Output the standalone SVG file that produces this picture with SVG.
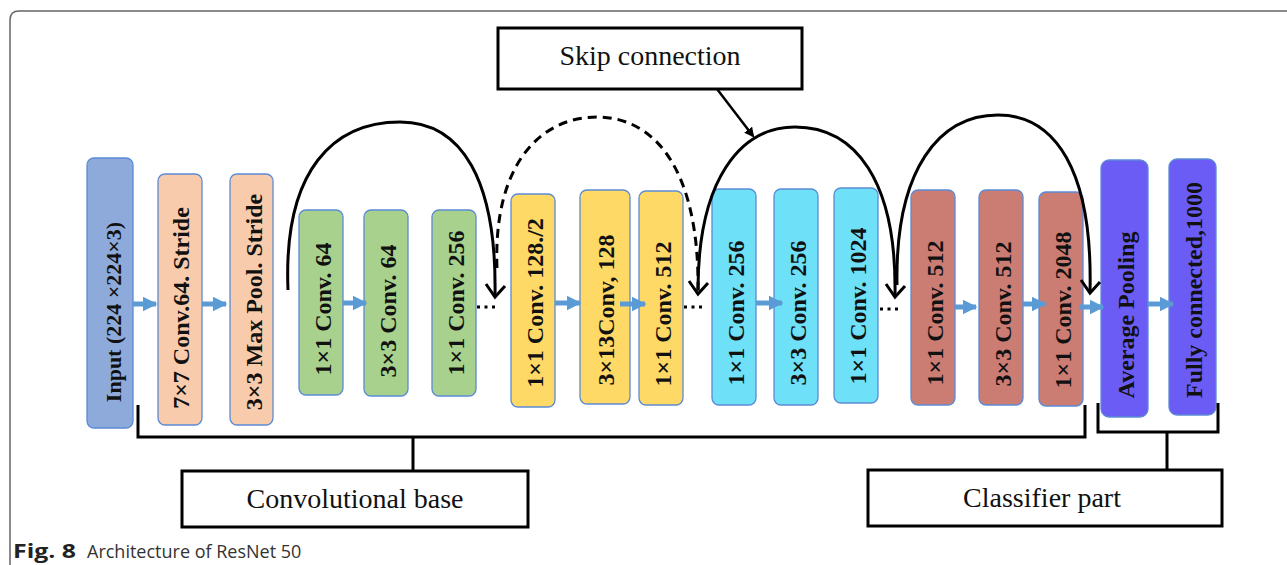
<svg xmlns="http://www.w3.org/2000/svg" width="1287" height="565" viewBox="0 0 1287 565">
<style>
.n{stroke:#5b8bd5;stroke-width:1.3}
.t{font-family:"Liberation Serif",serif;font-weight:bold;font-size:24px;fill:#111;text-anchor:middle;dominant-baseline:central}
.lbl{font-family:"Liberation Serif",serif;font-size:28px;fill:#111;text-anchor:middle}
.box{fill:#fff;stroke:#000;stroke-width:3}
.arc{fill:none;stroke:#000;stroke-width:3}
.head{fill:none;stroke:#000;stroke-width:3;stroke-linejoin:miter}
.ba{stroke:#5b9bd5;stroke-width:5;fill:none}
.dots{stroke:#000;stroke-width:3;stroke-dasharray:3 4.5}
</style>
<defs>
<marker id="bh" viewBox="0 0 10 10" refX="9" refY="5" markerWidth="3" markerHeight="3" orient="auto" markerUnits="strokeWidth">
<path d="M0 0 L10 5 L0 10 z" fill="#5b9bd5"/>
</marker>
<marker id="ph" viewBox="0 0 10 10" refX="8" refY="5" markerWidth="4" markerHeight="4" orient="auto" markerUnits="strokeWidth">
<path d="M0 0 L10 5 L0 10 z" fill="#000"/>
</marker>
</defs>
<rect width="1287" height="565" fill="#fff"/>
<path d="M10 575 L10 20 Q10 11 19 11 L1295 11" fill="none" stroke="#666" stroke-width="1.5"/>

<g id="input"><rect class="n" x="87" y="158" width="46" height="270" rx="7" fill="#8eaadb"/><text class="t" transform="translate(113 312) rotate(-90)" style="font-size:22px">Input (224 ×224×3)</text></g>
<g id="conv7"><rect class="n" x="158" y="174" width="44" height="251" rx="7" fill="#f8cbad"/><text class="t" transform="translate(181 308) rotate(-90)">7×7 Conv.64. Stride</text></g>
<g id="maxpool"><rect class="n" x="230" y="174" width="43" height="251" rx="7" fill="#f8cbad"/><text class="t" transform="translate(254 302) rotate(-90)">3×3 Max Pool. Stride</text></g>

<g id="g1"><rect class="n" x="299" y="210" width="44" height="185" rx="7" fill="#a9d18e"/><text class="t" transform="translate(323 309) rotate(-90)">1×1 Conv. 64</text></g>
<g id="g2"><rect class="n" x="364" y="210" width="44" height="186" rx="7" fill="#a9d18e"/><text class="t" transform="translate(388 311) rotate(-90)">3×3 Conv. 64</text></g>
<g id="g3"><rect class="n" x="432" y="210" width="44" height="186" rx="7" fill="#a9d18e"/><text class="t" transform="translate(456 303) rotate(-90)">1×1 Conv. 256</text></g>

<g id="y1"><rect class="n" x="511" y="194" width="44" height="213" rx="7" fill="#ffd966"/><text class="t" transform="translate(535 303) rotate(-90)">1×1 Conv. 128./2</text></g>
<g id="y2"><rect class="n" x="580" y="190" width="50" height="214" rx="7" fill="#ffd966"/><text class="t" transform="translate(606 310) rotate(-90)">3×13Conv, 128</text></g>
<g id="y3"><rect class="n" x="639" y="191" width="44" height="214" rx="7" fill="#ffd966"/><text class="t" transform="translate(663 314) rotate(-90)">1×1 Conv. 512</text></g>

<g id="c1"><rect class="n" x="712" y="189" width="44" height="216" rx="7" fill="#6ee0f7"/><text class="t" transform="translate(736 313) rotate(-90)">1×1 Conv. 256</text></g>
<g id="c2"><rect class="n" x="774" y="189" width="44" height="216" rx="7" fill="#6ee0f7"/><text class="t" transform="translate(798 313) rotate(-90)">3×3 Conv. 256</text></g>
<g id="c3"><rect class="n" x="834" y="188" width="44" height="215" rx="7" fill="#6ee0f7"/><text class="t" transform="translate(858 306) rotate(-90)">1×1 Conv. 1024</text></g>

<g id="r1"><rect class="n" x="911" y="190" width="44" height="215" rx="7" fill="#cb7d74"/><text class="t" transform="translate(935 313) rotate(-90)">1×1 Conv. 512</text></g>
<g id="r2"><rect class="n" x="979" y="190" width="44" height="215" rx="7" fill="#cb7d74"/><text class="t" transform="translate(1003 314) rotate(-90)">3×3 Conv. 512</text></g>
<g id="r3"><rect class="n" x="1039" y="192" width="44" height="214" rx="7" fill="#cb7d74"/><text class="t" transform="translate(1063 310) rotate(-90)">1×1 Conv. 2048</text></g>

<g id="avgpool"><rect class="n" x="1101" y="160" width="47" height="257" rx="8" fill="#6b5cf6"/><text class="t" transform="translate(1126 315) rotate(-90)">Average Pooling</text></g>
<g id="fc"><rect class="n" x="1169" y="159" width="47" height="256" rx="8" fill="#6b5cf6"/><text class="t" transform="translate(1194 290) rotate(-90)">Fully connected,1000</text></g>

<g id="skip"><rect class="box" x="498" y="28" width="304" height="61"/><text class="lbl" x="650" y="65">Skip connection</text></g>
<g id="convbase"><rect class="box" x="182" y="471" width="346" height="56"/><text class="lbl" x="355" y="508">Convolutional base</text></g>
<g id="classifier"><rect class="box" x="868" y="470" width="354" height="56"/><text class="lbl" x="1042" y="507">Classifier part</text></g>

<g id="connectors">
<path class="ba" d="M133 304 H156" marker-end="url(#bh)"/>
<path class="ba" d="M202 304 H226" marker-end="url(#bh)"/>
<path class="ba" d="M343 303 H366" marker-end="url(#bh)"/>
<path class="ba" d="M555 303 H580" marker-end="url(#bh)"/>
<path class="ba" d="M620 304 H645" marker-end="url(#bh)"/>
<path class="ba" d="M756 303 H782" marker-end="url(#bh)"/>
<path class="ba" d="M955 307 H976" marker-end="url(#bh)"/>
<path class="ba" d="M1023 304 H1045" marker-end="url(#bh)"/>
<path class="ba" d="M1079 307 H1103" marker-end="url(#bh)"/>
<path class="ba" d="M1148 304 H1173" marker-end="url(#bh)"/>

<path class="dots" d="M477 307 H497"/>
<path class="dots" d="M684 307 H704"/>
<path class="dots" d="M880 309 H900"/>

<path class="arc" d="M288 290 C283 168 335 122 400 122 C462 122 497 180 495 296"/>
<path class="head" d="M486 284 L495 297 L505 286"/>
<path class="arc" d="M497 268 C493 165 540 117 597 117 C655 117 700 170 698 293" stroke-dasharray="9 6"/>
<path class="head" d="M689 281 L698 294 L708 283"/>
<path class="arc" d="M698 290 C698 180 740 127 795 127 C855 127 897 180 895 296"/>
<path class="head" d="M886 284 L895 297 L905 286"/>
<path class="arc" d="M897 285 C895 168 940 115 998 115 C1055 115 1093 170 1090 292"/>
<path class="head" d="M1081 280 L1090 293 L1100 282"/>

<path d="M717 89 L753 136" stroke="#000" stroke-width="2.5" marker-end="url(#ph)"/>

<path d="M138 405 V437 H1085 V405" fill="none" stroke="#000" stroke-width="3"/>
<path d="M413 437 V471" stroke="#000" stroke-width="3"/>
<path d="M1098 403 V432 H1218 V403" fill="none" stroke="#000" stroke-width="3"/>
<path d="M1167 432 V470" stroke="#000" stroke-width="3"/>
</g>

<text x="13" y="558" font-family="Open Sans, sans-serif" font-weight="bold" font-size="19" fill="#222" textLength="63" lengthAdjust="spacingAndGlyphs">Fig. 8</text>
<text x="87" y="558" font-family="Open Sans, sans-serif" font-size="18" fill="#333">Architecture of ResNet 50</text>
</svg>
